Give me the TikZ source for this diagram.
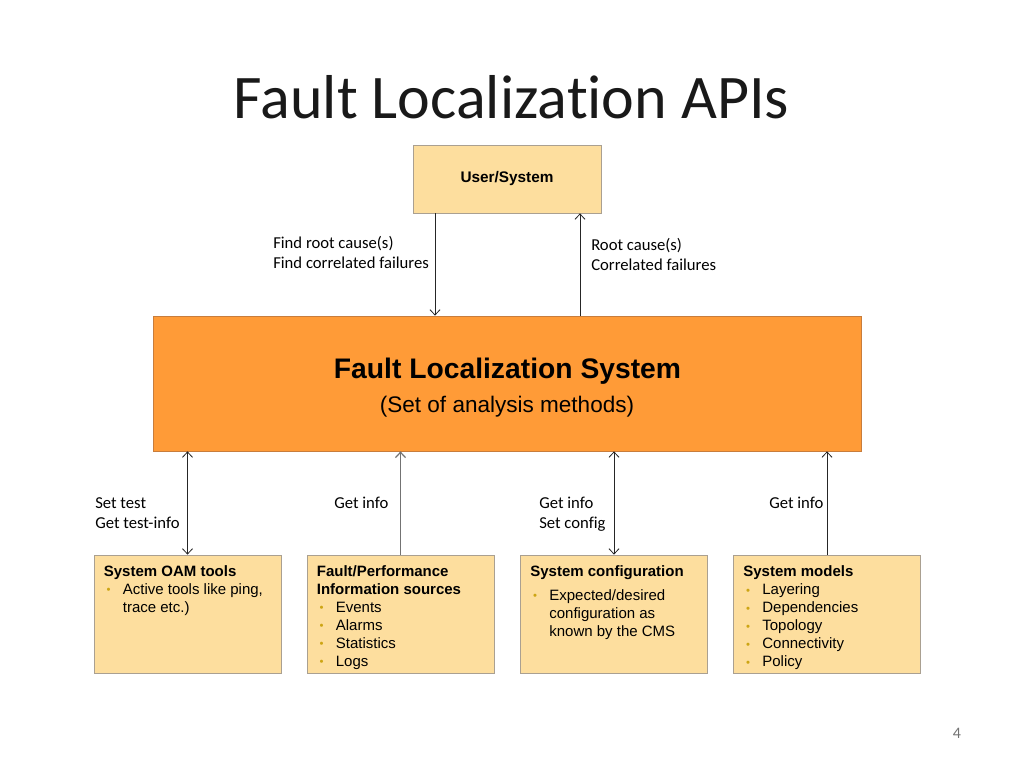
\documentclass[tikz,border=0pt]{standalone}
\usepackage{fontspec}
\setmainfont{Liberation Sans}
\newfontfamily\calibri[Ligatures=NoCommon]{Carlito}
\usetikzlibrary{arrows,arrows.meta}
\definecolor{boxfill}{RGB}{253,222,158}
\definecolor{boxline}{RGB}{170,160,145}
\definecolor{flsfill}{RGB}{255,155,55}
\definecolor{flsline}{RGB}{200,125,60}
\definecolor{bulletc}{RGB}{205,165,20}
\newcommand{\bitem}[1]{\hspace*{2pt}\makebox[12.25pt][l]{\raisebox{0.6pt}{\color{bulletc}\fontsize{8.5}{8.5}\selectfont\textbullet}}#1}
\newcommand{\bcont}[1]{\hspace*{14.25pt}#1}

\begin{document}
\begin{tikzpicture}[x=0.75pt,y=-0.75pt, >={Straight Barb[length=4pt,width=7.5pt]},
  lightbox/.style={draw=boxline, fill=boxfill, line width=0.6pt, inner sep=0pt,
    minimum width=140.25pt, minimum height=88.5pt},
  boxtext/.style={anchor=north west, inner sep=0pt, align=left,
    font=\fontsize{11.25}{13.5}\selectfont},
  apilabel/.style={anchor=base west, inner sep=0pt, align=left,
    font=\calibri\fontsize{12.5}{15}\selectfont},
  link/.style={line width=0.6pt, color=black!85}]

\useasboundingbox (0,0) rectangle (1024,768);

\node[font=\calibri\fontsize{46.5}{50}\selectfont, anchor=base, color=black!90] (title) at (511.5,118) {Fault Localization APIs};

% user and the analysis system
\node[draw=boxline, fill=boxfill, line width=0.6pt, minimum width=141pt, minimum height=51pt,
  font=\bfseries\fontsize{11.5}{13}\selectfont] (user) at (507,179) {User/System};
\node[draw=flsline, fill=flsfill, line width=0.6pt, minimum width=531pt, minimum height=101.25pt] (fls) at (507,383.5) {};
\node[font=\bfseries\fontsize{21.2}{24}\selectfont, anchor=base] (flsname) at (507.5,378) {Fault Localization System};
\node[font=\fontsize{16.9}{20}\selectfont, anchor=base] (flsnote) at (507,412) {(Set of analysis methods)};

\coordinate (askend) at ([xshift=-54pt]user.south);
\coordinate (answerend) at ([xshift=54.75pt]user.south);
\draw[link,->] (askend) -- (askend |- fls.north);
\draw[link,->] (answerend |- fls.north) -- (answerend);
% base of a two-line label is the base of its last line
\node[apilabel] (ask) at (273,268) {Find root cause(s)\\Find correlated failures};
\node[apilabel] (answer) at (591,270) {Root cause(s)\\Correlated failures};

% information sources
\node[lightbox] (oam) at (187.5,614) {};
\node[lightbox] (perf) at (400.5,614) {};
\node[lightbox] (conf) at (614,614) {};
\node[lightbox] (model) at (827,614.5) {};

\node[boxtext] (oamtext) at ([xshift=7.5pt,yshift=-8pt]oam.north west)
  {\textbf{System OAM tools}\\ \bitem{Active tools like ping,}\\ \bcont{trace etc.)}};
\node[boxtext] (perftext) at ([xshift=7.5pt,yshift=-8pt]perf.north west)
  {\textbf{Fault/Performance}\\ \textbf{Information sources}\\ \bitem{Events}\\ \bitem{Alarms}\\ \bitem{Statistics}\\ \bitem{Logs}};
\node[boxtext] (conftext) at ([xshift=7.5pt,yshift=-8pt]conf.north west)
  {\textbf{System configuration}\\[4.5pt] \bitem{Expected/desired}\\ \bcont{configuration as}\\ \bcont{known by the CMS}};
\node[boxtext] (modeltext) at ([xshift=7.5pt,yshift=-8pt]model.north west)
  {\textbf{System models}\\ \bitem{Layering}\\ \bitem{Dependencies}\\ \bitem{Topology}\\ \bitem{Connectivity}\\ \bitem{Policy}};

\draw[link,<->] (oam.north) -- (oam.north |- fls.south);
\draw[link,->, color=black!55, line width=0.9pt] (perf.north) -- (perf.north |- fls.south);
\draw[link,<->] (conf.north) -- (conf.north |- fls.south);
\draw[link,->] (model.north) -- (model.north |- fls.south);

\node[apilabel] (oamlabel) at (95,528) {Set test\\Get test-info};
\node[apilabel] (perflabel) at (334,508) {Get info};
\node[apilabel] (conflabel) at (539,528) {Get info\\Set config};
\node[apilabel] (modellabel) at (769,508) {Get info};

\node[font=\calibri\fontsize{12}{14}\selectfont, color=black!55] (pagenum) at (957,733) {4};
\end{tikzpicture}
\end{document}
